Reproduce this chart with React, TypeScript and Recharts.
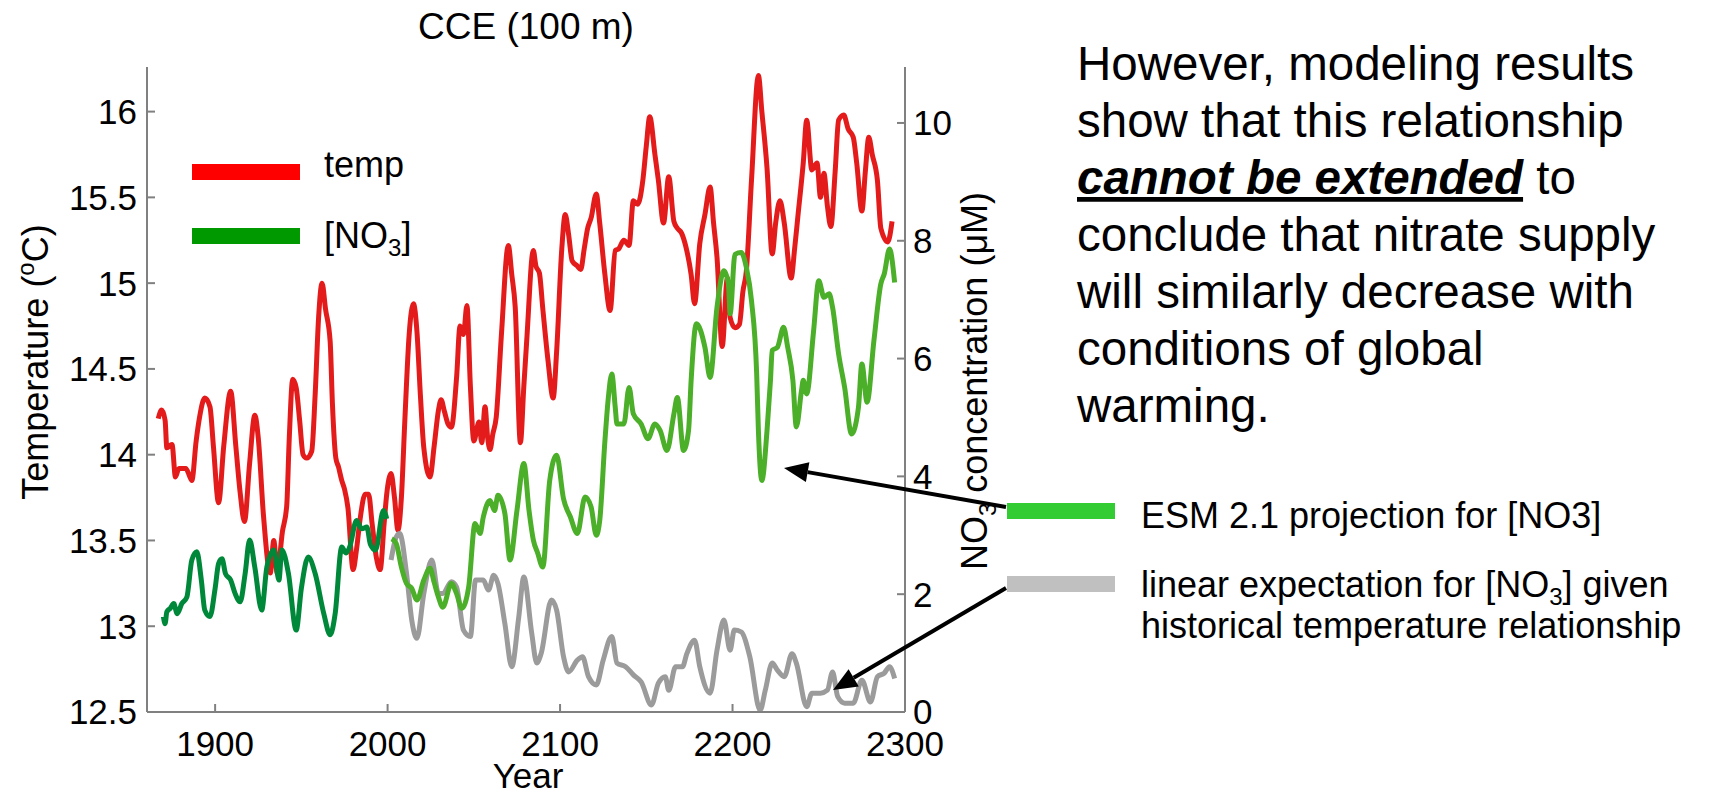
import React from 'react';
import { LineChart, Line, XAxis, YAxis } from 'recharts';

const FONT = '"Liberation Sans", Arial, Helvetica, sans-serif';

// [year, temperature °C]
const tempSeries: [number, number][] = [
  [1867, 14.21], [1869, 14.26], [1871, 14.2], [1872, 14.04], [1875, 14.06], [1877, 13.87],
  [1879, 13.92], [1883, 13.92], [1885, 13.88], [1886.5, 13.85], [1889, 14.08], [1891, 14.22],
  [1894, 14.33], [1897, 14.28], [1899, 14.05], [1902, 13.72], [1905, 14.05], [1909, 14.37],
  [1912, 14.05], [1914.5, 13.78], [1917, 13.61], [1920, 13.95], [1923, 14.23], [1925, 14.1],
  [1928, 13.65], [1932, 13.31], [1934, 13.5], [1936, 13.31], [1939, 13.55], [1941.5, 13.7],
  [1943, 14.1], [1945, 14.44], [1947, 14.39], [1949, 14.2], [1951, 14.0], [1953, 13.98],
  [1956, 14.02], [1958, 14.35], [1960, 14.8], [1962, 15.0], [1964, 14.85], [1966.7, 14.66],
  [1968, 14.3], [1970, 13.98], [1971.5, 13.93], [1973.4, 13.85], [1975, 13.8], [1977, 13.69],
  [1980, 13.33], [1982, 13.45], [1984, 13.62], [1987, 13.77], [1989, 13.77], [1991, 13.6],
  [1993.5, 13.4], [1995.7, 13.33], [1998, 13.6], [1999.5, 13.77], [2002, 13.89], [2004, 13.75],
  [2006, 13.56], [2008, 13.75], [2010, 14.2], [2012.5, 14.7], [2015, 14.88], [2017, 14.72],
  [2019, 14.35], [2021, 14.04], [2024.6, 13.87], [2027, 14.05], [2029.5, 14.26], [2031, 14.32],
  [2033, 14.25], [2035, 14.18], [2037, 14.16], [2040, 14.45], [2042, 14.75], [2044, 14.7],
  [2046, 14.87], [2048, 14.4], [2050, 14.08], [2053, 14.19], [2054.6, 14.07], [2056.5, 14.28],
  [2058, 14.1], [2059.4, 14.03], [2061, 14.12], [2063, 14.22], [2066, 14.7], [2070, 15.22],
  [2072, 15.05], [2074, 14.86], [2077, 14.07], [2079, 14.4], [2080.7, 14.67], [2084.5, 15.19],
  [2086, 15.1], [2088, 15.06], [2090, 14.85], [2093, 14.55], [2096, 14.33], [2098, 14.6],
  [2101, 15.2], [2103, 15.4], [2105, 15.28], [2107, 15.13], [2110, 15.1], [2112, 15.08],
  [2114, 15.2], [2116, 15.32], [2118, 15.38], [2121, 15.52], [2123, 15.35], [2126, 15.05],
  [2129, 14.84], [2132, 15.19], [2134, 15.2], [2137, 15.25], [2140, 15.22], [2142.5, 15.48],
  [2145, 15.46], [2148, 15.6], [2150, 15.8], [2152, 15.97], [2155, 15.75], [2157, 15.6],
  [2160, 15.35], [2163, 15.62], [2166, 15.36], [2168, 15.32], [2170.5, 15.29], [2173, 15.21],
  [2176, 15.05], [2178, 14.88], [2181, 15.23], [2184, 15.4], [2187, 15.56], [2189, 15.35],
  [2191, 15.15], [2194, 14.63], [2197, 15.03], [2198.6, 14.8], [2201.4, 14.74], [2204, 14.76],
  [2206, 14.95], [2208, 15.07], [2211, 15.6], [2215, 16.21], [2217, 16.0], [2220, 15.67],
  [2223, 15.17], [2225, 15.35], [2227.5, 15.48], [2230, 15.35], [2234, 15.03], [2236, 15.2],
  [2238, 15.4], [2241, 15.7], [2243, 15.95], [2246, 15.66], [2249, 15.7], [2251, 15.5],
  [2253, 15.64], [2255, 15.45], [2257, 15.33], [2259.5, 15.65], [2261.5, 15.95], [2264.5, 15.98],
  [2267, 15.9], [2270, 15.85], [2272, 15.7], [2275, 15.42], [2277, 15.65], [2279, 15.85],
  [2281, 15.75], [2284, 15.6], [2286, 15.32], [2290, 15.24], [2292.5, 15.36],
];

// [year, NO3 µM] historical
const no3HistSeries: [number, number][] = [
  [1870, 1.62], [1871, 1.5], [1872, 1.7], [1874, 1.76], [1876, 1.84], [1878, 1.67],
  [1880.7, 1.84], [1883.6, 1.95], [1886.5, 2.58], [1889.4, 2.72], [1892, 2.24], [1894, 1.73],
  [1897, 1.62], [1900, 2.1], [1902, 2.52], [1904, 2.6], [1906, 2.35], [1909, 2.24],
  [1911.6, 2.01], [1914.5, 1.87], [1917.4, 2.35], [1920, 2.92], [1923, 2.46], [1927, 1.73],
  [1930, 2.46], [1934, 2.75], [1937, 2.24], [1938.7, 2.75], [1942.5, 2.35], [1947, 1.39],
  [1950, 2.1], [1954, 2.63], [1958, 2.35], [1963, 1.67], [1966.7, 1.31], [1969.6, 1.67],
  [1973.4, 2.8], [1976, 2.7], [1978, 2.8], [1982, 3.25], [1985, 3.11], [1988, 3.14],
  [1990, 2.85], [1993, 2.75], [1997.6, 3.42], [1999.5, 3.28],
];

// [year, NO3 µM] ESM 2.1 projection
const no3EsmSeries: [number, number][] = [
  [2002.4, 2.94], [2005, 2.86], [2008, 2.46], [2011, 2.18], [2014, 2.1], [2017, 1.9],
  [2021, 2.24], [2024.6, 2.44], [2027, 2.2], [2029.5, 1.95], [2032, 1.78], [2037, 2.18],
  [2040, 2.01], [2043, 1.76], [2047, 2.12], [2050.7, 3.2], [2053.6, 3.03], [2055.5, 3.31],
  [2059.4, 3.59], [2062, 3.42], [2064, 3.68], [2068, 3.37], [2071, 2.58], [2075, 3.42],
  [2079, 4.22], [2082, 3.42], [2084.5, 2.92], [2087, 2.7], [2090, 2.46], [2094, 3.93],
  [2098, 4.36], [2102, 3.62], [2106, 3.31], [2110, 3.03], [2114.5, 3.65], [2118, 3.48],
  [2121, 3.0], [2123, 3.25], [2126, 4.6], [2128, 5.34], [2130, 5.74], [2132, 5.17],
  [2133, 4.89], [2137, 4.89], [2140, 5.51], [2142.5, 5.06], [2147, 4.89], [2151, 4.64],
  [2155, 4.89], [2158, 4.78], [2162, 4.44], [2166, 5.06], [2168, 5.34], [2171.6, 4.44],
  [2174.5, 4.78], [2176, 5.63], [2179, 6.59], [2184, 6.19], [2187, 5.68], [2191, 6.87],
  [2195, 7.49], [2197.6, 7.27], [2198.6, 6.76], [2201.4, 7.77], [2205, 7.8], [2208, 7.55],
  [2211, 6.98], [2214, 5.74], [2215, 4.78], [2217, 3.93], [2220, 4.78], [2222, 5.63],
  [2223, 6.14], [2226, 6.19], [2229.6, 6.53], [2232, 6.19], [2235, 5.63], [2237, 4.84],
  [2240, 5.46], [2241, 5.63], [2243, 5.4], [2247, 6.47], [2250, 7.32], [2253, 7.04],
  [2256, 7.1], [2258, 6.87], [2261.5, 6.08], [2265, 5.51], [2269, 4.72], [2273, 5.17],
  [2275, 5.91], [2278, 5.26], [2282, 6.31], [2286, 7.27], [2288, 7.44], [2291, 7.86],
  [2294, 7.29],
];

// [year, NO3 µM] linear expectation from temperature
const no3LinearSeries: [number, number][] = [
  [2002, 2.58], [2005, 2.97], [2007, 3.03], [2011, 2.35], [2014, 1.56], [2017, 1.25],
  [2021, 2.01], [2025.6, 2.58], [2029.5, 2.01], [2032, 2.01], [2037, 2.21], [2040, 2.12],
  [2044, 1.39], [2048, 1.28], [2051, 2.24], [2055.5, 2.24], [2058.5, 2.07], [2061.5, 2.32],
  [2064, 2.18], [2068, 1.5], [2072, 0.77], [2076, 1.6], [2079, 2.29], [2083.6, 1.33],
  [2086.5, 0.83], [2089, 0.99], [2095, 1.9], [2098, 1.73], [2102, 0.94], [2105, 0.68],
  [2110, 0.88], [2113, 0.94], [2116.5, 0.6], [2121, 0.46], [2125, 0.88], [2130, 1.28],
  [2133, 0.83], [2138, 0.77], [2142.5, 0.63], [2147, 0.51], [2153, 0.12], [2157, 0.49],
  [2161, 0.6], [2163, 0.37], [2167, 0.77], [2171, 0.77], [2173.5, 0.99], [2178, 1.22],
  [2181, 0.77], [2187, 0.32], [2191, 1.05], [2195, 1.56], [2198.6, 1.05], [2201, 1.39],
  [2205, 1.36], [2210, 0.94], [2216, 0.03], [2219, 0.37], [2223, 0.83], [2226, 0.71],
  [2230, 0.6], [2234.5, 0.99], [2237, 0.83], [2243, 0.09], [2246, 0.32], [2251, 0.32],
  [2255, 0.37], [2258, 0.68], [2261, 0.26], [2265, 0.15], [2270, 0.15], [2275, 0.54],
  [2280, 0.17], [2284, 0.6], [2288, 0.66], [2291, 0.77], [2294, 0.57],
];

const yearTicks = [1900, 2000, 2100, 2200, 2300];
const tempTicks = [12.5, 13, 13.5, 14, 14.5, 15, 15.5, 16];
const no3Ticks = [0, 2, 4, 6, 8, 10];

const paragraph = [
  'However, modeling results',
  'show that this relationship',
  '',
  'conclude that nitrate supply',
  'will similarly decrease with',
  'conditions of global',
  'warming.',
];

const toRows = (s: [number, number][]) => s.map(([year, v]) => ({ year, v }));

const AXIS = '#808080';
const tickStyle = { fill: '#000', fontSize: 35, fontFamily: FONT };

// simple arrow: line from tail to tip with a filled head
const Arrow = ({ x1, y1, x2, y2 }: any) => {
  const dx = x2 - x1;
  const dy = y2 - y1;
  const len = Math.sqrt(dx * dx + dy * dy);
  const ux = dx / len;
  const uy = dy / len;
  const L = 24;
  const W = 10;
  const bx = x2 - ux * L;
  const by = y2 - uy * L;
  const pts = `${x2},${y2} ${bx - uy * W},${by + ux * W} ${bx + uy * W},${by - ux * W}`;
  return (
    <g>
      <line x1={x1} y1={y1} x2={bx} y2={by} stroke="#000" strokeWidth={4} />
      <polygon points={pts} fill="#000" />
    </g>
  );
};

export default function App() {
  return (
    <div style={{ position: 'absolute', left: 0, top: 0, width: 1713, height: 796, background: '#fff', fontFamily: FONT }}>
      <div style={{ position: 'absolute', left: 0, top: 0 }}>
        <LineChart width={1000} height={796} margin={{ top: 67, right: 0, bottom: 0, left: 0 }}>
          <XAxis
            xAxisId="b"
            dataKey="year"
            type="number"
            domain={[1860.5, 2300]}
            allowDataOverflow
            ticks={yearTicks}
            interval={0}
            height={84}
            tickSize={-8}
            tickMargin={27}
            stroke={AXIS}
            strokeWidth={2}
            tick={tickStyle}
          />
          <XAxis
            xAxisId="t"
            orientation="top"
            dataKey="year"
            type="number"
            domain={[1860.5, 2300]}
            allowDataOverflow
            ticks={yearTicks}
            interval={0}
            height={0}
            tickSize={-8}
            stroke={AXIS}
            strokeWidth={2}
            tick={false}
          />
          <YAxis
            yAxisId="temp"
            type="number"
            domain={[12.5, 16.26]}
            allowDataOverflow
            ticks={tempTicks}
            interval={0}
            width={147}
            tickSize={-8}
            tickMargin={18}
            stroke={AXIS}
            strokeWidth={2}
            tick={tickStyle}
          />
          <YAxis
            yAxisId="no3"
            orientation="right"
            type="number"
            domain={[0, 10.95]}
            allowDataOverflow
            ticks={no3Ticks}
            interval={0}
            width={95}
            tickSize={-8}
            tickMargin={16}
            stroke={AXIS}
            strokeWidth={2}
            tick={tickStyle}
          />
          <Line xAxisId="b" yAxisId="temp" data={toRows(tempSeries)} dataKey="v" type="monotone"
            stroke="#e31b1b" strokeWidth={5} dot={false} activeDot={false} isAnimationActive={false} strokeLinejoin="round" />
          <Line xAxisId="b" yAxisId="no3" data={toRows(no3LinearSeries)} dataKey="v" type="monotone"
            stroke="#9b9b9b" strokeWidth={5} dot={false} activeDot={false} isAnimationActive={false} strokeLinejoin="round" />
          <Line xAxisId="b" yAxisId="no3" data={toRows(no3HistSeries)} dataKey="v" type="monotone"
            stroke="#00883a" strokeWidth={5} dot={false} activeDot={false} isAnimationActive={false} strokeLinejoin="round" />
          <Line xAxisId="b" yAxisId="no3" data={toRows(no3EsmSeries)} dataKey="v" type="monotone"
            stroke="#4caf2a" strokeWidth={5} dot={false} activeDot={false} isAnimationActive={false} strokeLinejoin="round" />
        </LineChart>
      </div>

      {/* titles, legends, annotation text */}
      <svg width={1713} height={796} style={{ position: 'absolute', left: 0, top: 0, pointerEvents: 'none' }} fontFamily={FONT}>
        <text x={526} y={39} fontSize={37} textAnchor="middle" fill="#000">CCE (100 m)</text>
        <text x={528} y={788} fontSize={35} textAnchor="middle" fill="#000">Year</text>

        <text transform="translate(48,362) rotate(-90)" fontSize={36} textAnchor="middle" fill="#000">
          Temperature (<tspan fontSize={24} dy={-14}>o</tspan><tspan dy={14}>C)</tspan>
        </text>
        <text transform="translate(987,381) rotate(-90)" fontSize={36} textAnchor="middle" fill="#000">
          NO<tspan fontSize={24} dy={9}>3</tspan><tspan dy={-9}> concentration (μM)</tspan>
        </text>

        {/* in-plot legend */}
        <rect x={192} y={164} width={108} height={16} fill="#ff0000" />
        <rect x={192} y={228} width={108} height={16} fill="#009900" />
        <text x={324} y={177} fontSize={36} fill="#000">temp</text>
        <text x={324} y={248} fontSize={36} fill="#000">
          [NO<tspan fontSize={24} dy={8}>3</tspan><tspan dy={-8}>]</tspan>
        </text>

        {/* paragraph */}
        {paragraph.map((line, i) => (
          <text key={i} x={1077} y={80 + i * 57} fontSize={47.5} fill="#000">{line}</text>
        ))}
        <text x={1077} y={194} fontSize={47.5} fill="#000">
          <tspan fontWeight="bold" fontStyle="italic" textDecoration="underline">cannot be extended</tspan>
          <tspan> to</tspan>
        </text>

        {/* right legend */}
        <rect x={1007} y={503} width={108} height={16} fill="#33cc33" />
        <rect x={1007} y={576} width={108} height={16} fill="#c0c0c0" />
        <text x={1141} y={528} fontSize={36} fill="#000">ESM 2.1 projection for [NO3]</text>
        <text x={1141} y={597} fontSize={36} fill="#000">
          linear expectation for [NO<tspan fontSize={24} dy={8}>3</tspan><tspan dy={-8}>] given</tspan>
        </text>
        <text x={1141} y={638} fontSize={36} fill="#000">historical temperature relationship</text>

        <Arrow x1={1006} y1={507} x2={784} y2={468} />
        <Arrow x1={1006} y1={588} x2={833} y2={690} />
      </svg>
    </div>
  );
}
